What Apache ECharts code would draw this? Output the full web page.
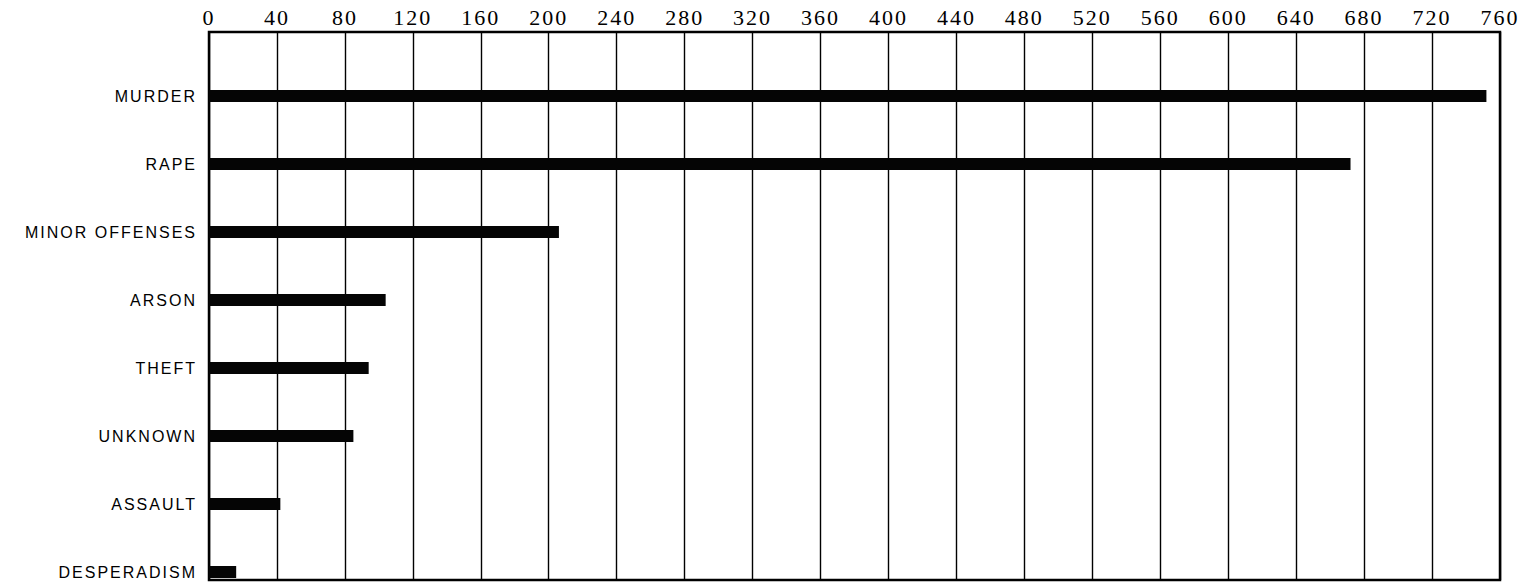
<!DOCTYPE html>
<html>
<head>
<meta charset="utf-8">
<script src="https://cdn.jsdelivr.net/npm/echarts@6/dist/echarts.min.js"></script>
<style>
  html, body { margin: 0; padding: 0; background: #fff; }
  #chart { width: 1529px; height: 588px; }
  #chart svg text { letter-spacing: 2px; }
</style>
</head>
<body>
<div id="chart"></div>
<script>
const categories = ['MURDER', 'RAPE', 'MINOR OFFENSES', 'ARSON', 'THEFT', 'UNKNOWN', 'ASSAULT', 'DESPERADISM'];
const values = [752, 672, 206, 104, 94, 85, 42, 16];
const tickMin = 0, tickMax = 760, tickStep = 40;

const chart = echarts.init(document.getElementById('chart'), null, { renderer: 'svg' });
const L = 209, R = 29;
chart.setOption({
  animation: false,
  backgroundColor: '#fff',
  grid: [
    { left: L, right: R, top: 32, bottom: 8, show: true, borderColor: '#000', borderWidth: 2.5, backgroundColor: 'transparent' },
    { left: L, right: R, top: 28, bottom: 16 }
  ],
  xAxis: [
    {
      gridIndex: 0, type: 'value', position: 'top', min: tickMin, max: tickMax, interval: tickStep,
      axisLine: { show: false }, axisTick: { show: false },
      axisLabel: { color: '#000', fontFamily: 'Liberation Serif', fontSize: 22, margin: 4 },
      splitLine: { show: true, lineStyle: { color: '#000', width: 1.4 } }
    },
    { gridIndex: 1, type: 'value', min: tickMin, max: tickMax, show: false }
  ],
  yAxis: [
    { gridIndex: 0, type: 'value', show: false, splitLine: { show: false } },
    {
      gridIndex: 1, type: 'category', inverse: true, boundaryGap: false,
      data: [''].concat(categories),
      axisLine: { show: false }, axisTick: { show: false }, splitLine: { show: false },
      axisLabel: { color: '#000', fontFamily: 'Liberation Sans', fontSize: 16, margin: 12 }
    }
  ],
  series: [{
    type: 'bar', xAxisIndex: 1, yAxisIndex: 1,
    data: [null].concat(values),
    barWidth: 12,
    itemStyle: { color: '#050505' }
  }]
});
</script>
</body>
</html>
